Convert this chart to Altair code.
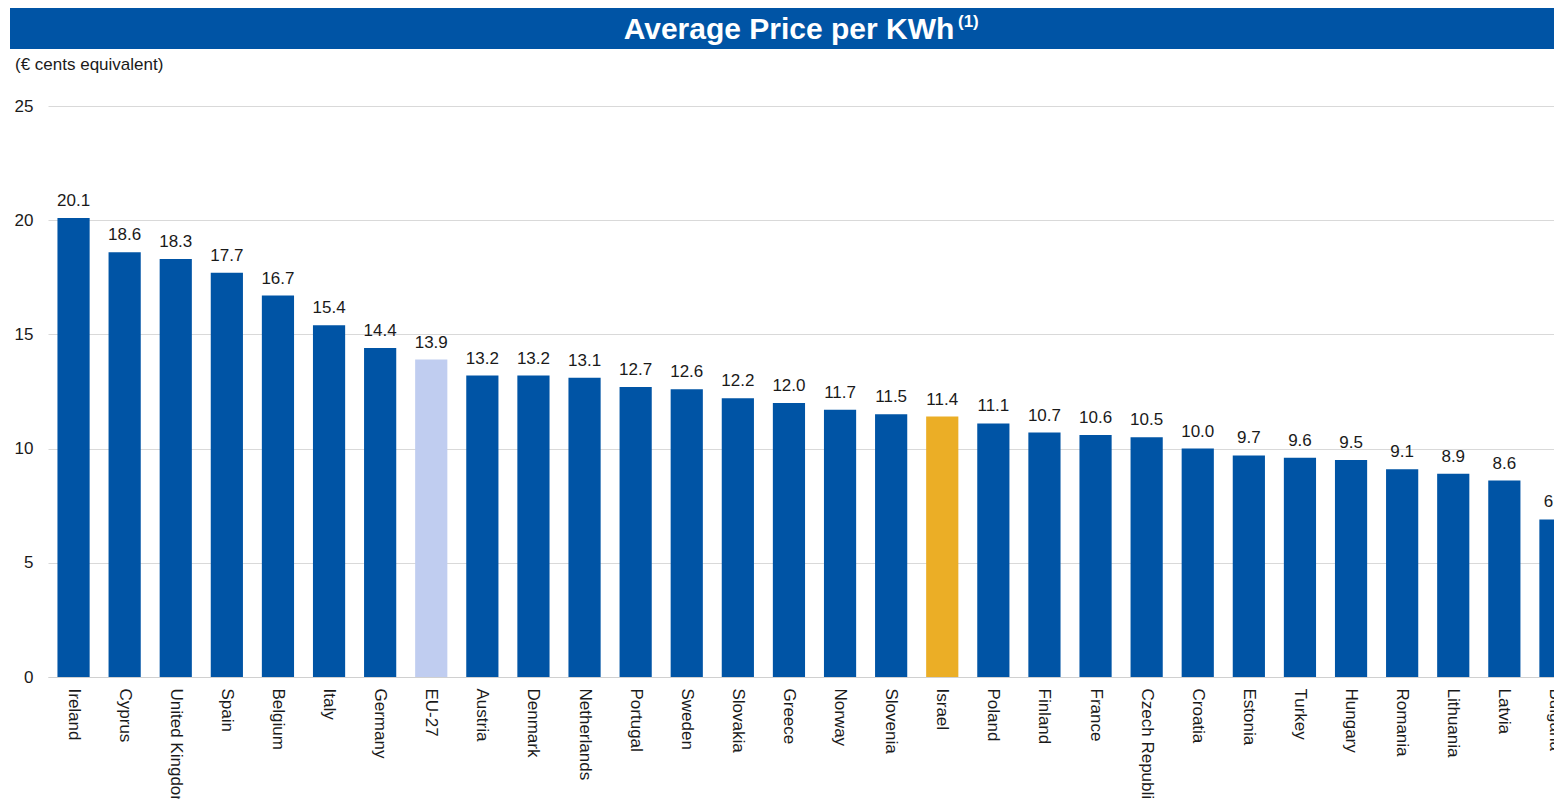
import altair as alt
import pandas as pd

countries = ["Ireland", "Cyprus", "United Kingdom", "Spain", "Belgium", "Italy", "Germany",
             "EU-27", "Austria", "Denmark", "Netherlands", "Portugal", "Sweden", "Slovakia",
             "Greece", "Norway", "Slovenia", "Israel", "Poland", "Finland", "France",
             "Czech Republic", "Croatia", "Estonia", "Turkey", "Hungary", "Romania",
             "Lithuania", "Latvia", "Bulgaria"]
prices = [20.1, 18.6, 18.3, 17.7, 16.7, 15.4, 14.4, 13.9, 13.2, 13.2, 13.1, 12.7, 12.6, 12.2,
          12.0, 11.7, 11.5, 11.4, 11.1, 10.7, 10.6, 10.5, 10.0, 9.7, 9.6, 9.5, 9.1, 8.9, 8.6, 6.9]
groups = ["EU" if c == "EU-27" else ("Israel" if c == "Israel" else "Country") for c in countries]
y_ticks = [0, 5, 10, 15, 20, 25]

df = pd.DataFrame({"country": countries, "price": prices, "group": groups})

W, H = 1533, 571
FONT = "Liberation Sans"
BLUE = "#0054a5"
TXT = "#1a1a1a"

x_enc = alt.X("country:N", sort=countries, title=None,
              scale=alt.Scale(paddingInner=0.37, paddingOuter=0.185),
              axis=alt.Axis(labelAngle=90, labelFontSize=17, labelColor=TXT,
                            labelFont=FONT, labelPadding=11, ticks=False, domain=True,
                            domainColor="#d0d0d0", labelAlign="left", labelBaseline="middle"))
y_enc = alt.Y("price:Q", title=None,
              scale=alt.Scale(domain=[0, 25], nice=False),
              axis=alt.Axis(values=y_ticks, labelFontSize=17, labelColor=TXT,
                            labelFont=FONT, labelPadding=15, ticks=False, domain=False,
                            grid=True, gridColor="#d9d9d9", gridWidth=1))

base = alt.Chart(df)
bars = base.mark_bar().encode(
    x=x_enc, y=y_enc,
    color=alt.Color("group:N", legend=None,
                    scale=alt.Scale(domain=["Country", "EU", "Israel"],
                                    range=[BLUE, "#c0cdf0", "#ebae26"])))
labels = base.mark_text(baseline="alphabetic", dy=-12, fontSize=17, font=FONT, color=TXT).encode(
    x=alt.X("country:N", sort=countries), y="price:Q", text=alt.Text("price:Q", format=".1f"))

one = alt.Data(values=[{"a": 1}])
banner = alt.Chart(one).mark_rect(color=BLUE).encode(
    x=alt.value(-38), x2=alt.value(W + 10), y=alt.value(-99), y2=alt.value(-57))
title = alt.Chart(one).mark_text(text="Average Price per KWh", font=FONT, fontSize=30,
                                 fontWeight="bold", color="white", align="center",
                                 baseline="middle").encode(x=alt.value(741), y=alt.value(-76))
sup = alt.Chart(one).mark_text(text="(1)", font=FONT, fontSize=17, fontWeight="bold",
                               color="white", align="left", baseline="middle").encode(
    x=alt.value(910), y=alt.value(-84))
subtitle = alt.Chart(one).mark_text(text="(€ cents equivalent)", font=FONT, fontSize=17,
                                    color=TXT, align="left", baseline="middle").encode(
    x=alt.value(-33), y=alt.value(-41))

chart = alt.layer(bars, labels, banner, title, sup, subtitle).properties(
    width=W, height=H,
    autosize=alt.AutoSizeParams(type="none"),
    padding={"left": 40, "top": 98, "right": -27, "bottom": 122},
).configure_view(stroke=None)

chart.save("out.html", embed_options={"renderer": "svg", "actions": False})
